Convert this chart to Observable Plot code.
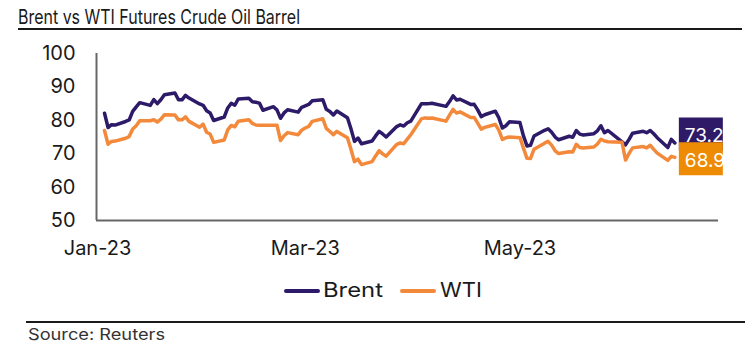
<!DOCTYPE html>
<html>
<head>
<meta charset="utf-8">
<script src="https://cdn.jsdelivr.net/npm/d3@7"></script>
<script src="https://cdn.jsdelivr.net/npm/@observablehq/plot@0.6"></script>
<style>
  html, body { margin: 0; padding: 0; background: #fff; }
  #wrap { position: relative; width: 752px; height: 353px; overflow: hidden; font-family: Inter, "Noto Sans", sans-serif; color: #1a1a1a; }
  .abs { position: absolute; white-space: nowrap; line-height: 1; }
  #title { left: 18px; top: 7px; font-size: 20px; transform-origin: 0 0; }
  #rule1 { left: 18px; top: 28.3px; width: 724px; height: 2px; background: #1a1a1a; }
  #chart { left: 0; top: 30px; }
  #chart svg text { font-variant: normal; font-variant-numeric: normal; }
  .leg { font-size: 20px; }
  .sw { height: 4px; border-radius: 2px; }
  #rule2 { left: 26px; top: 321px; width: 719px; height: 1.5px; background: #1a1a1a; }
  #source { left: 28px; top: 326px; font-size: 16px; transform-origin: 0 0; color: #333; }
</style>
</head>
<body>
<div id="wrap">
  <div id="title" class="abs">Brent vs WTI Futures Crude Oil Barrel</div>
  <div id="rule1" class="abs"></div>
  <div id="chart" class="abs"></div>
  <div id="rule2" class="abs"></div>
  <div id="source" class="abs">Source: Reuters</div>
</div>
<script>
// ---- data ----
const dates = [
  "2023-01-03","2023-01-04","2023-01-05","2023-01-06","2023-01-09","2023-01-10","2023-01-11","2023-01-12","2023-01-13",
  "2023-01-16","2023-01-17","2023-01-18","2023-01-19","2023-01-20","2023-01-23","2023-01-24","2023-01-25","2023-01-26",
  "2023-01-27","2023-01-30","2023-01-31","2023-02-01","2023-02-02","2023-02-03","2023-02-06","2023-02-07","2023-02-08",
  "2023-02-09","2023-02-10","2023-02-13","2023-02-14","2023-02-15","2023-02-16","2023-02-17","2023-02-20","2023-02-21",
  "2023-02-22","2023-02-23","2023-02-24","2023-02-27","2023-02-28","2023-03-01","2023-03-02","2023-03-03","2023-03-06",
  "2023-03-07","2023-03-08","2023-03-09","2023-03-10","2023-03-13","2023-03-14","2023-03-15","2023-03-16","2023-03-17",
  "2023-03-20","2023-03-21","2023-03-22","2023-03-23","2023-03-24","2023-03-27","2023-03-28","2023-03-29","2023-03-30",
  "2023-03-31","2023-04-03","2023-04-04","2023-04-05","2023-04-06","2023-04-10","2023-04-11","2023-04-12","2023-04-13",
  "2023-04-14","2023-04-17","2023-04-18","2023-04-19","2023-04-20","2023-04-21","2023-04-24","2023-04-25","2023-04-26",
  "2023-04-27","2023-04-28","2023-05-01","2023-05-02","2023-05-03","2023-05-04","2023-05-05","2023-05-08","2023-05-09",
  "2023-05-10","2023-05-11","2023-05-12","2023-05-15","2023-05-16","2023-05-17","2023-05-18","2023-05-19","2023-05-22",
  "2023-05-23","2023-05-24","2023-05-25","2023-05-26","2023-05-30","2023-05-31","2023-06-01","2023-06-02","2023-06-05",
  "2023-06-06","2023-06-07","2023-06-08","2023-06-09","2023-06-12","2023-06-13","2023-06-14"
];
const brent = [
  82.10,77.84,78.69,78.57,79.65,80.10,82.67,84.03,85.28,
  84.46,86.20,84.98,86.16,87.63,88.19,86.13,86.12,87.47,
  86.66,84.90,84.49,82.84,82.17,79.94,80.99,83.69,85.09,
  84.50,86.39,86.61,85.58,85.38,85.14,83.00,84.07,83.05,
  80.60,82.21,83.16,82.45,83.89,84.31,84.75,85.83,86.18,
  83.29,82.66,81.59,82.78,80.77,77.45,73.69,74.70,72.97,
  73.79,75.32,76.69,75.91,74.99,78.12,78.65,78.28,79.27,
  79.77,84.93,84.94,84.99,85.12,84.18,85.61,87.33,86.09,
  86.31,84.76,84.77,83.12,81.10,81.66,82.73,80.77,77.69,
  78.37,79.54,79.31,75.32,72.33,72.50,75.30,77.01,77.44,
  76.41,74.98,74.17,75.23,74.91,76.96,75.86,75.58,75.99,
  76.84,78.36,76.26,76.95,73.54,72.66,74.28,76.13,76.71,
  76.29,76.95,75.96,74.79,71.84,74.29,73.20
];
const wti = [
  76.93,72.84,73.67,73.77,74.63,75.12,77.41,78.39,79.86,
  79.86,80.18,79.48,80.33,81.64,81.62,80.13,80.15,81.01,
  79.68,77.90,78.87,76.41,75.88,73.39,74.11,77.14,78.47,
  78.06,79.72,80.14,79.06,78.59,78.49,78.49,78.49,78.49,
  73.95,75.39,76.32,75.68,77.05,77.69,78.16,79.68,80.46,
  77.58,76.66,75.72,76.68,74.80,71.33,67.61,68.35,66.74,
  67.64,69.33,70.90,69.96,69.26,72.81,73.20,72.97,74.37,
  75.67,80.42,80.71,80.61,80.70,79.74,81.53,83.26,82.16,
  82.52,80.83,80.86,79.16,77.37,77.87,78.76,77.07,74.30,
  74.76,75.00,74.80,71.66,68.60,68.56,71.34,73.16,73.71,
  72.56,70.87,70.04,70.60,70.50,72.83,71.86,71.69,71.99,
  72.91,74.34,73.80,73.60,73.40,68.09,70.10,71.74,72.15,
  71.74,72.53,71.29,70.17,68.00,69.20,68.90
];
const seriesNames = ["Brent", "WTI"];
const yTicks = [50, 60, 70, 80, 90, 100];
const xTickDates = ["2023-01-01", "2023-03-01", "2023-05-01"];

// ---- styles ----
const LINE_COLORS = ["#2d1a68", "#f3893b"];
const BOX_COLORS = ["#2e1a66", "#ee8b05"];
const LEGEND_SWATCH_X = [284, 400];
const LEGEND_TEXT_X = [323, 440];
const LEGEND_TEXT_W = [60, 42];

const parse = s => new Date(s + "T00:00:00Z");
const rows = dates.map((d, i) => ({date: parse(d), brent: brent[i], wti: wti[i]}));
const last = rows[rows.length - 1];
const DAY = 864e5;
const jan1 = Date.UTC(2023, 0, 1);
const xDomain = [new Date(jan1 - 0.28 * DAY), new Date(jan1 + 176.4 * DAY)];

const boxSymbol = {draw(ctx) { ctx.rect(-22, -16.5, 44, 33); }};

const endLabels = [
  {date: last.date, v: last.brent, box: BOX_COLORS[0], dyBox: -9, dyText: -7.5},
  {date: last.date, v: last.wti, box: BOX_COLORS[1], dyBox: 1.5, dyText: 3.5}
];

const marks = [
  Plot.ruleX([xDomain[0]], {stroke: "#666", strokeWidth: 2}),
  Plot.ruleY([50], {stroke: "#666", strokeWidth: 2}),
  Plot.line(rows, {x: "date", y: "brent", stroke: LINE_COLORS[0], strokeWidth: 3.5, strokeLinejoin: "round"}),
  Plot.line(rows, {x: "date", y: "wti", stroke: LINE_COLORS[1], strokeWidth: 3.5, strokeLinejoin: "round"})
];
endLabels.forEach(l => {
  marks.push(Plot.dot([l], {x: "date", y: "v", symbol: boxSymbol, r: 10, fill: l.box, stroke: null, dx: 26, dy: l.dyBox}));
  marks.push(Plot.text([l], {x: "date", y: "v", text: d => d.v.toFixed(1), fill: "white", textAnchor: "start", dx: 10, dy: l.dyText, fontSize: 19}));
});

const chart = Plot.plot({
  width: 752,
  height: 240,
  marginLeft: 96,
  marginRight: 34,
  marginTop: 23,
  marginBottom: 50,
  style: {fontFamily: "Inter, 'Noto Sans', sans-serif", fontSize: "20px", color: "#1a1a1a", background: "transparent", overflow: "visible"},
  x: {type: "utc", domain: xDomain, ticks: xTickDates.map(parse), tickFormat: d3.utcFormat("%b-%y"), tickSize: 0, tickPadding: 20, label: null},
  y: {domain: [50, 100], ticks: yTicks, tickSize: 0, tickPadding: 21, label: null},
  marks
});
document.getElementById("chart").appendChild(chart);

// legend
const wrap = document.getElementById("wrap");
seriesNames.forEach((name, i) => {
  const sw = document.createElement("div");
  sw.className = "abs sw";
  sw.style.left = LEGEND_SWATCH_X[i] + "px";
  sw.style.top = "289px";
  sw.style.width = "36px";
  sw.style.background = LINE_COLORS[i];
  const lab = document.createElement("div");
  lab.className = "abs leg";
  lab.style.left = LEGEND_TEXT_X[i] + "px";
  lab.style.top = "279.7px";
  lab.style.transformOrigin = "0 0";
  lab.textContent = name;
  wrap.appendChild(sw);
  wrap.appendChild(lab);
  const w = lab.getBoundingClientRect().width;
  if (w > 0) lab.style.transform = `scaleX(${LEGEND_TEXT_W[i] / w})`;
});

// fit title/source widths to reference
function fit(id, target) {
  const el = document.getElementById(id);
  const w = el.getBoundingClientRect().width;
  if (w > 0) el.style.transform = `scaleX(${target / w})`;
}
fit("title", 282);
fit("source", 137);
</script>
</body>
</html>
